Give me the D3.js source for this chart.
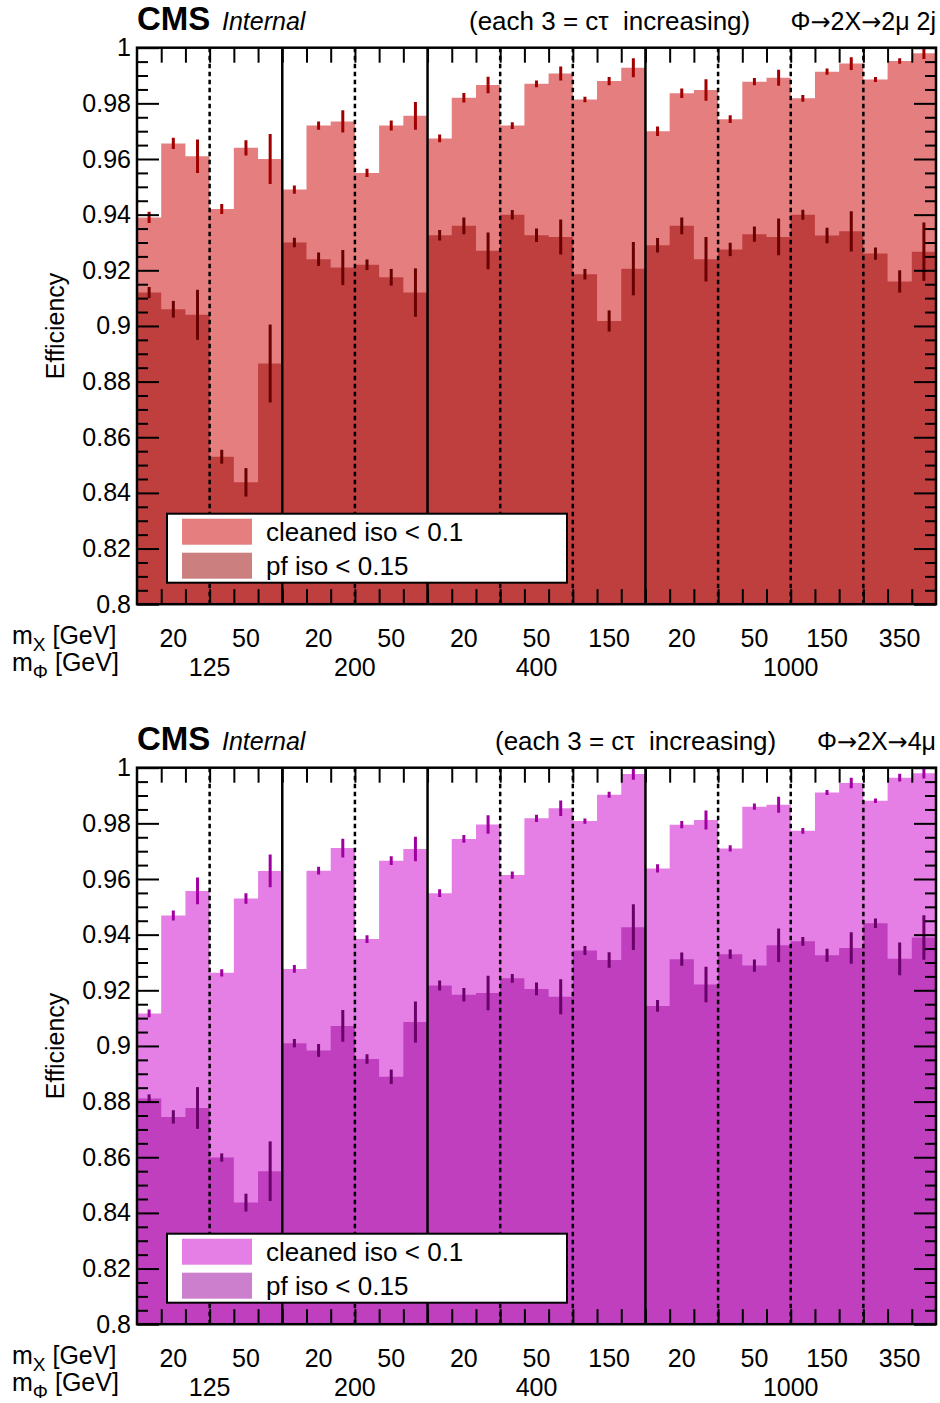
<!DOCTYPE html>
<html>
<head>
    <title>Efficiency</title>
    <script src="https://d3js.org/d3.v7.min.js"></script>
    <style>
        body { margin: 0; background: #fff; }
        svg { font-family: "Liberation Sans", Arial, Helvetica, sans-serif; }
        .axis path.domain { display: none; }
        .axis line { stroke: #000; stroke-width: 2; }
    </style>
</head>
<body>
    <svg id="chart"></svg>
    <script>
        // mass points: each mX point has 3 ctau bins
        const mPhiLabels = ["125", "200", "400", "1000"];
        const mXLabels = [["20", "50"], ["20", "50"], ["20", "50", "150"], ["20", "50", "150", "350"]];
        const binsPerPoint = 3;

        // Phi -> 2X -> 2mu 2j
        const cleaned2mu2j = [0.939, 0.9656, 0.961, 0.942, 0.964, 0.960, 0.949, 0.972, 0.9735, 0.955, 0.972, 0.9755,
            0.9674, 0.982, 0.9866, 0.972, 0.987, 0.9907, 0.9814, 0.988, 0.9928,
            0.970, 0.9836, 0.9848, 0.9743, 0.9878, 0.9892, 0.9818, 0.9914, 0.9943, 0.9886, 0.9952, 0.998];
        const cleaned2mu2jErr = [0.002, 0.002, 0.006, 0.0018, 0.0027, 0.009, 0.0015, 0.0015, 0.004, 0.0015, 0.0018, 0.005,
            0.0014, 0.0017, 0.003, 0.0012, 0.0012, 0.0025, 0.001, 0.0015, 0.0034,
            0.0017, 0.0017, 0.0039, 0.0014, 0.0013, 0.0029, 0.0012, 0.0011, 0.0023, 0.0009, 0.001, 0.0021];
        const pf2mu2j = [0.912, 0.906, 0.904, 0.853, 0.8438, 0.8865, 0.930, 0.924, 0.921, 0.922, 0.9175, 0.912,
            0.9326, 0.936, 0.927, 0.940, 0.9326, 0.932, 0.9186, 0.9018, 0.9206,
            0.929, 0.936, 0.924, 0.9275, 0.933, 0.932, 0.940, 0.9325, 0.934, 0.926, 0.916, 0.9267];
        const pf2mu2jErr = [0.002, 0.003, 0.009, 0.0025, 0.0051, 0.014, 0.0017, 0.0024, 0.0063, 0.0019, 0.003, 0.0087,
            0.0019, 0.003, 0.0066, 0.0017, 0.0024, 0.0063, 0.0019, 0.0038, 0.0096,
            0.0026, 0.003, 0.008, 0.0024, 0.0027, 0.0066, 0.0018, 0.0028, 0.0072, 0.0022, 0.004, 0.0105];

        // Phi -> 2X -> 4mu
        const cleaned4mu = [0.9117, 0.9469, 0.9557, 0.9263, 0.953, 0.9629, 0.9277, 0.963, 0.9711, 0.9384, 0.9666, 0.9708,
            0.9549, 0.9744, 0.9796, 0.9614, 0.9818, 0.9854, 0.9808, 0.9903, 0.9977,
            0.9638, 0.9795, 0.9812, 0.971, 0.986, 0.9867, 0.9773, 0.9911, 0.9945, 0.9881, 0.9964, 0.998];
        const cleaned4muErr = [0.0014, 0.0018, 0.0048, 0.0013, 0.0019, 0.0059, 0.0014, 0.0014, 0.0034, 0.0014, 0.0016, 0.0044,
            0.0014, 0.0014, 0.0033, 0.0013, 0.0013, 0.0028, 0.0009, 0.0011, 0.002,
            0.0015, 0.0013, 0.0034, 0.0011, 0.0011, 0.0029, 0.001, 0.0009, 0.0019, 0.0008, 0.0014, 0.0019];
        const pf4mu = [0.8811, 0.8745, 0.8777, 0.8599, 0.8437, 0.855, 0.901, 0.8984, 0.9072, 0.8953, 0.8889, 0.9086,
            0.9217, 0.9184, 0.919, 0.9243, 0.9205, 0.9177, 0.9343, 0.9309, 0.9427,
            0.9144, 0.9312, 0.9221, 0.933, 0.9289, 0.9362, 0.9376, 0.9326, 0.9352, 0.9441, 0.9313, 0.939];
        const pf4muErr = [0.0015, 0.0024, 0.0075, 0.0015, 0.0032, 0.0107, 0.0015, 0.0023, 0.0057, 0.0017, 0.0026, 0.0074,
            0.0018, 0.0024, 0.0062, 0.0016, 0.0023, 0.0063, 0.0016, 0.0028, 0.0082,
            0.0021, 0.0024, 0.0064, 0.0017, 0.0022, 0.006, 0.0016, 0.0023, 0.0057, 0.0017, 0.0059, 0.008];

        const legendLabels = ["cleaned iso < 0.1", "pf iso < 0.15"];

        const width = 940, height = 1403;
        const svg = d3.select("#chart").attr("width", width).attr("height", height);

        const nGroups = d3.sum(mXLabels, d => d.length);
        const nBins = nGroups * binsPerPoint;
        const x = d3.scaleLinear().domain([0, nBins]).range([137, 936]);

        function drawPanel(top, cfg) {
            const plotH = 556.5;
            const y = d3.scaleLinear().domain([0.8, 1]).range([top + plotH, top]);
            const g = svg.append("g");

            g.append("clipPath").attr("id", "clip" + cfg.id)
                .append("rect").attr("x", x(0)).attr("y", y(1)).attr("width", x(nBins) - x(0)).attr("height", plotH);
            const plot = g.append("g").attr("clip-path", `url(#clip${cfg.id})`);

            // step histograms (half transparent, overlap gives the dark colour)
            const area = d3.area()
                .curve(d3.curveStepAfter)
                .x((d, i) => x(i))
                .y0(y(0.8))
                .y1(d => y(d));
            [[cfg.cleaned, cfg.colors[0]], [cfg.pf, cfg.colors[1]]].forEach(([vals, col]) => {
                plot.append("path")
                    .datum(vals.concat([vals[vals.length - 1]]))
                    .attr("d", area)
                    .attr("fill", col)
                    .attr("fill-opacity", 0.5);
            });

            // error bars
            [[cfg.cleaned, cfg.cleanedErr, cfg.errColors[0]], [cfg.pf, cfg.pfErr, cfg.errColors[1]]].forEach(([vals, errs, col]) => {
                plot.selectAll(null)
                    .data(vals)
                    .enter().append("line")
                    .attr("x1", (d, i) => x(i + 0.5))
                    .attr("x2", (d, i) => x(i + 0.5))
                    .attr("y1", (d, i) => y(d - errs[i]))
                    .attr("y2", (d, i) => y(d + errs[i]))
                    .attr("stroke", col)
                    .attr("stroke-width", 3);
            });

            // separators: solid between mPhi, dashed between mX
            let bin = 0;
            mXLabels.forEach((pts, p) => {
                pts.forEach((m, k) => {
                    bin += binsPerPoint;
                    if (bin >= nBins) return;
                    g.append("line")
                        .attr("x1", x(bin)).attr("x2", x(bin))
                        .attr("y1", y(1)).attr("y2", y(0.8))
                        .attr("stroke", "#000")
                        .attr("stroke-width", 2.5)
                        .attr("stroke-dasharray", k === pts.length - 1 ? null : "4.5,3.5");
                });
            });

            // axes
            const majors = d3.range(0, 11).map(i => +(0.8 + i * 0.02).toFixed(2));
            const minors = d3.range(0, 41).map(i => +(0.8 + i * 0.005).toFixed(3)).filter(v => !majors.includes(v));
            g.append("g").attr("class", "axis")
                .attr("transform", `translate(${x(0)},0)`)
                .call(d3.axisLeft(y).tickValues(majors).tickSizeInner(-22).tickSizeOuter(0).tickPadding(6)
                    .tickFormat(d => String(d)))
                .call(a => a.selectAll("text").attr("font-size", 25).attr("fill", "#000").attr("font-family", null));
            g.append("g").attr("class", "axis")
                .attr("transform", `translate(${x(0)},0)`)
                .call(d3.axisLeft(y).tickValues(minors).tickSizeInner(-11).tickSizeOuter(0).tickFormat(""));
            g.append("g").attr("class", "axis")
                .attr("transform", `translate(${x(nBins)},0)`)
                .call(d3.axisRight(y).tickValues(majors).tickSizeInner(-22).tickSizeOuter(0).tickFormat(""));
            g.append("g").attr("class", "axis")
                .attr("transform", `translate(${x(nBins)},0)`)
                .call(d3.axisRight(y).tickValues(minors).tickSizeInner(-11).tickSizeOuter(0).tickFormat(""));
            g.append("g").attr("class", "axis")
                .attr("transform", `translate(0,${y(0.8)})`)
                .call(d3.axisBottom(x).tickValues(d3.range(1, nBins)).tickSizeInner(-15).tickSizeOuter(0).tickFormat(""));
            g.append("g").attr("class", "axis")
                .attr("transform", `translate(0,${y(1)})`)
                .call(d3.axisTop(x).tickValues(d3.range(1, nBins)).tickSizeInner(-15).tickSizeOuter(0).tickFormat(""));

            g.append("rect")
                .attr("x", x(0)).attr("y", y(1))
                .attr("width", x(nBins) - x(0)).attr("height", plotH)
                .attr("fill", "none").attr("stroke", "#000").attr("stroke-width", 2.5);

            // y title
            g.append("text")
                .attr("transform", `translate(64,${(y(1) + y(0.8)) / 2}) rotate(-90)`)
                .attr("text-anchor", "middle")
                .attr("font-size", 25)
                .text("Efficiency");

            // header
            const hy = top - 18;
            g.append("text").attr("x", 137).attr("y", hy).attr("font-size", 33).attr("font-weight", "bold").text("CMS");
            g.append("text").attr("x", 222).attr("y", hy).attr("font-size", 25).attr("font-style", "italic").text("Internal");
            g.append("text").attr("x", cfg.noteX).attr("y", hy).attr("font-size", 26)
                .attr("xml:space", "preserve").text("(each 3 = c\u03c4  increasing)");
            const proc = g.append("text").attr("x", 936).attr("y", hy).attr("font-size", 25).attr("text-anchor", "end");
            cfg.process.split("\u2192").forEach((part, i) => {
                if (i > 0) proc.append("tspan").attr("font-family", "DejaVu Sans").attr("font-size", 24).text("\u2192");
                proc.append("tspan").text(part);
            });

            // x labels
            const by = y(0.8);
            let gi = 0;
            mXLabels.forEach((pts, p) => {
                const start = gi;
                pts.forEach(m => {
                    g.append("text")
                        .attr("x", x(gi * binsPerPoint + binsPerPoint / 2))
                        .attr("y", by + 43)
                        .attr("text-anchor", "middle")
                        .attr("font-size", 25)
                        .text(m);
                    gi++;
                });
                g.append("text")
                    .attr("x", x((start + gi) * binsPerPoint / 2))
                    .attr("y", by + 72)
                    .attr("text-anchor", "middle")
                    .attr("font-size", 25)
                    .text(mPhiLabels[p]);
            });
            [["X", 40], ["\u03a6", 67]].forEach(([sub, dy]) => {
                const t = g.append("text").attr("x", 12).attr("y", by + dy).attr("font-size", 25);
                t.append("tspan").text("m");
                t.append("tspan").attr("dy", 7).attr("font-size", 19).text(sub);
                t.append("tspan").attr("dy", -7).text(" [GeV]");
            });

            // legend
            const ly = top + 466;
            g.append("rect")
                .attr("x", 167).attr("y", ly).attr("width", 400).attr("height", 69)
                .attr("fill", "#fff").attr("stroke", "#000").attr("stroke-width", 2);
            legendLabels.forEach((lab, i) => {
                g.append("rect")
                    .attr("x", 182).attr("y", ly + 5 + i * 34).attr("width", 70).attr("height", 26)
                    .attr("fill", cfg.colors[i]).attr("fill-opacity", 0.5);
                g.append("text")
                    .attr("x", 266).attr("y", ly + 27 + i * 34)
                    .attr("font-size", 26)
                    .text(lab);
            });
        }

        drawPanel(47.7, {
            id: 1,
            cleaned: cleaned2mu2j, cleanedErr: cleaned2mu2jErr,
            pf: pf2mu2j, pfErr: pf2mu2jErr,
            colors: ["#cc0000", "#990000"],
            errColors: ["#a00000", "#6a0000"],
            noteX: 469,
            process: "\u03a6\u21922X\u21922\u03bc 2j"
        });
        drawPanel(767.7, {
            id: 2,
            cleaned: cleaned4mu, cleanedErr: cleaned4muErr,
            pf: pf4mu, pfErr: pf4muErr,
            colors: ["#cc00cc", "#990099"],
            errColors: ["#a000a0", "#6a006a"],
            noteX: 495,
            process: "\u03a6\u21922X\u21924\u03bc"
        });
    </script>
</body>
</html>
